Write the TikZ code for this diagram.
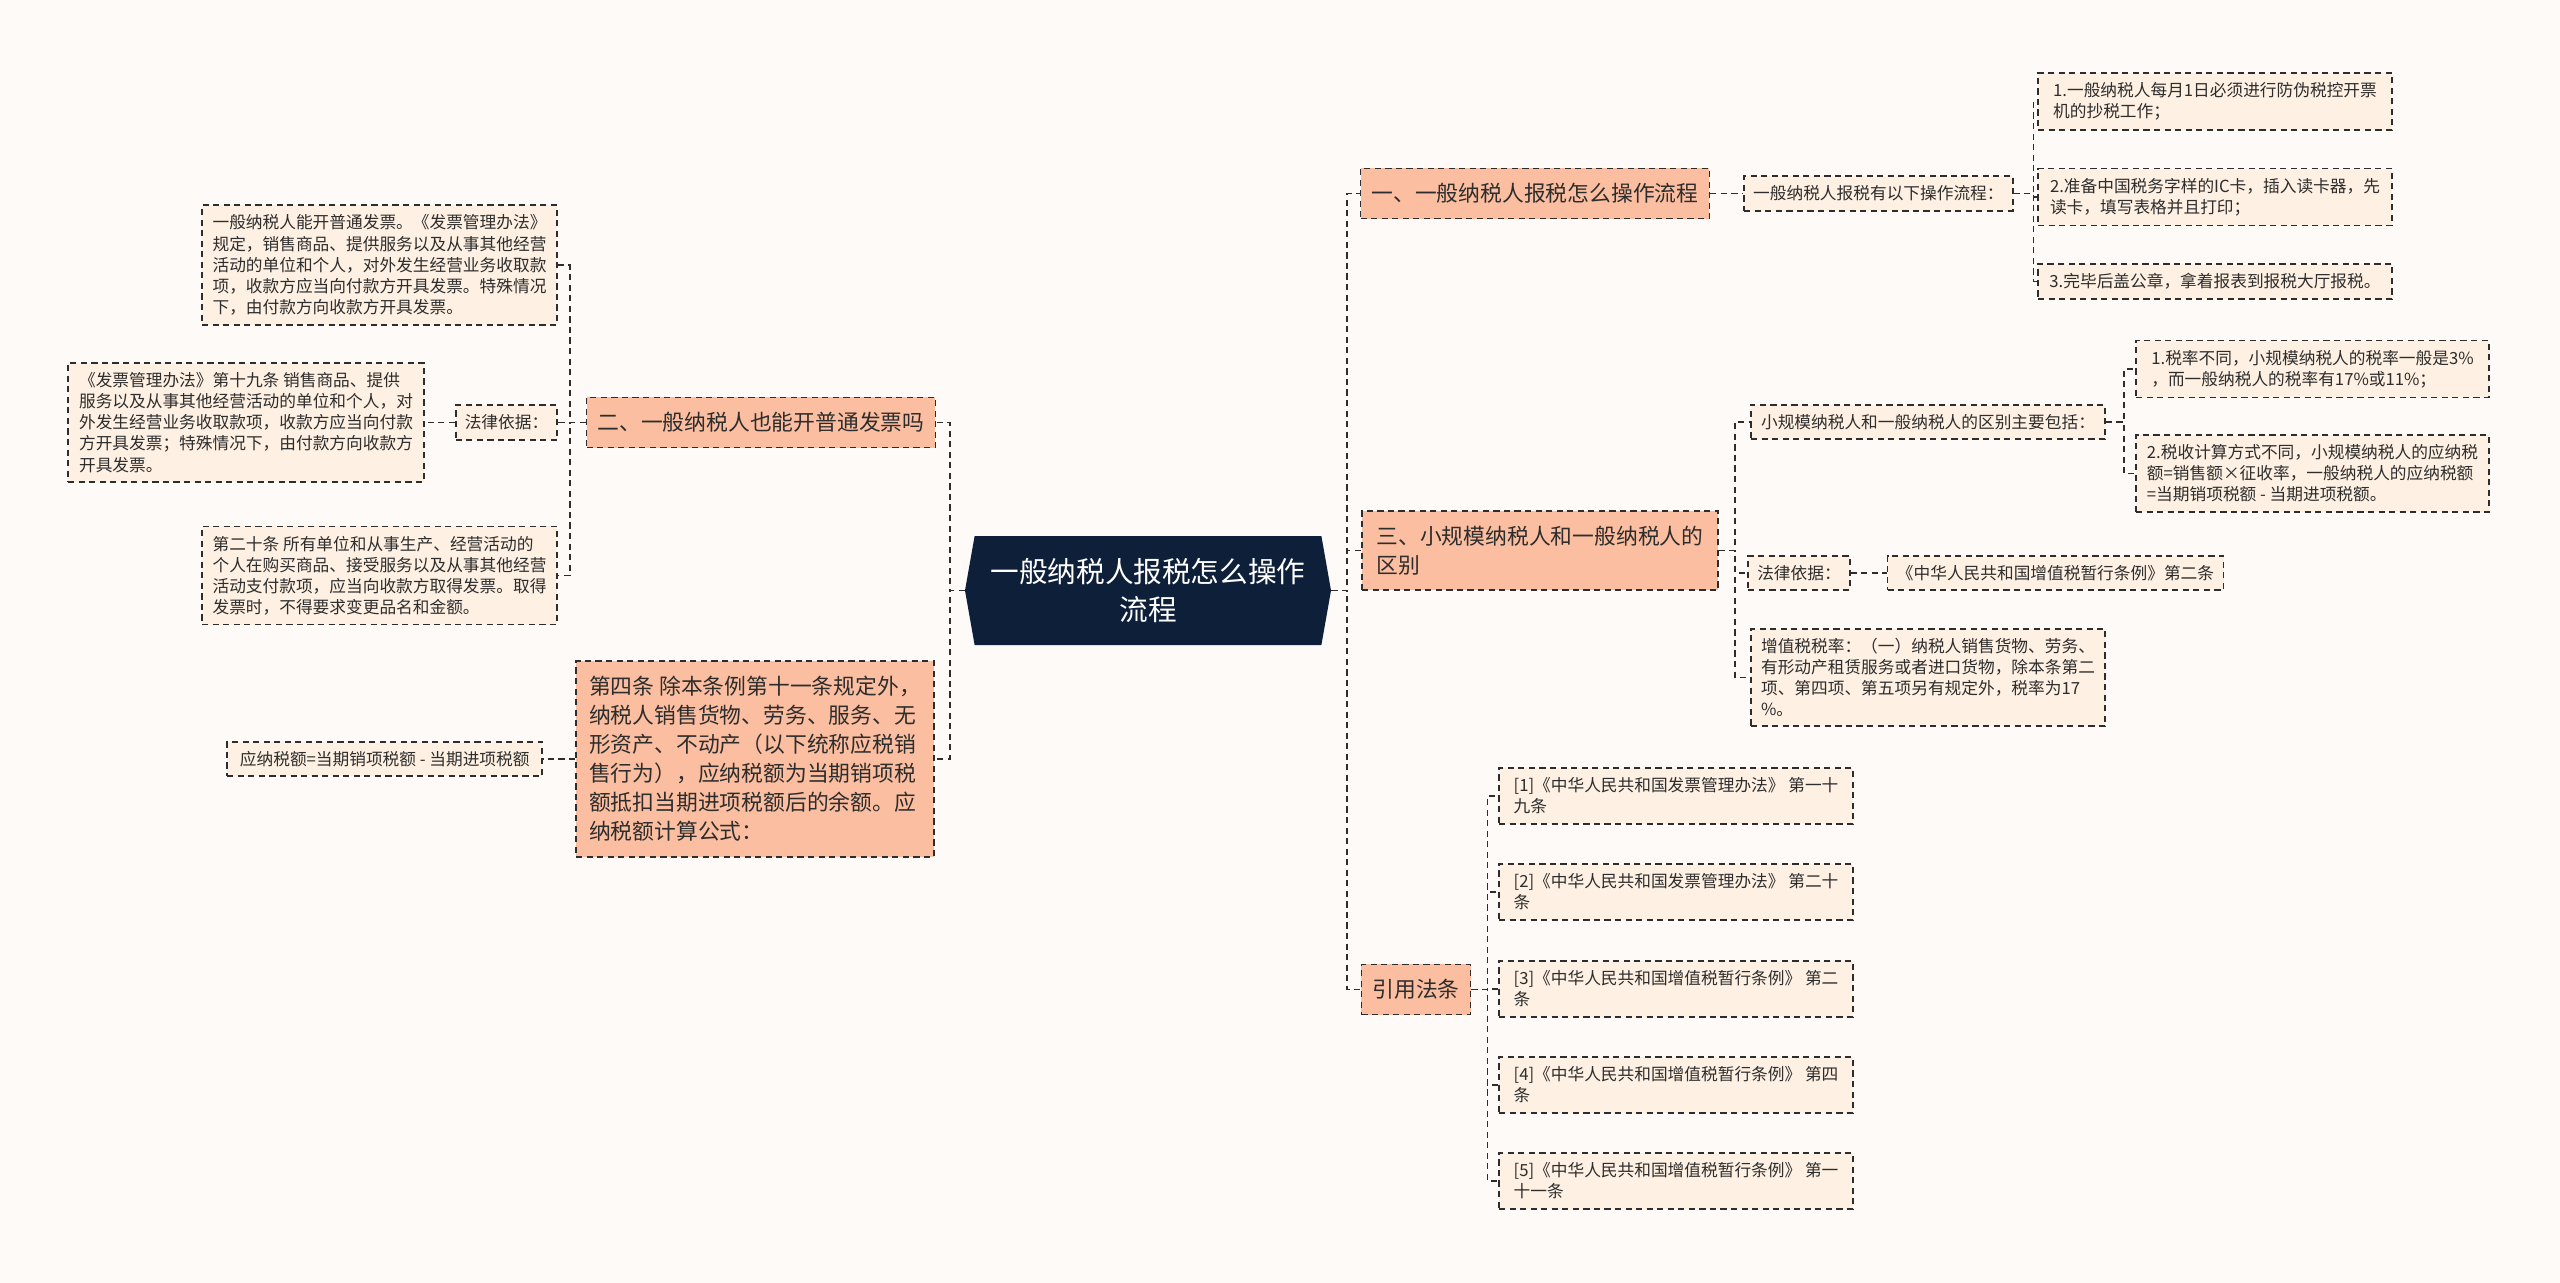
\documentclass[tikz,border=0pt]{standalone}
\usepackage{fontspec}
\newfontfamily\cjk{Noto Sans CJK SC}
\usepackage{tikz}
\usetikzlibrary{positioning,shapes.symbols}
\usepackage{xcolor}
\definecolor{PageBg}{RGB}{253,250,248}
\definecolor{CoreNavy}{RGB}{14,31,58}
\definecolor{TopicSalmon}{RGB}{252,190,160}
\definecolor{LeafPeach}{RGB}{254,240,226}
\definecolor{LineGray}{RGB}{45,45,45}

\begin{document}
\begin{tikzpicture}[
  core/.style={signal, signal to=west and east, signal pointer angle=160,
    fill=CoreNavy, text=white, font=\cjk\fontsize{16.3}{21.3}\selectfont,
    align=center, minimum width=7.32cm, minimum height=2.18cm, inner sep=0pt},
  topic/.style={rectangle, draw=LineGray, line width=1pt, dash pattern=on 3.5pt off 2.5pt,
    fill=TopicSalmon, text=LineGray, font=\cjk\fontsize{12.4}{16.5}\selectfont,
    align=left, inner xsep=0.22cm, inner ysep=0.3cm},
  leaf/.style={rectangle, draw=LineGray, line width=1pt, dash pattern=on 3.5pt off 2.5pt,
    fill=LeafPeach, text=LineGray, font=\cjk\fontsize{9.5}{12}\selectfont,
    align=left, inner xsep=0.18cm, inner ysep=0.19cm},
  link/.style={draw=LineGray, line width=1pt, dash pattern=on 3.5pt off 2.5pt},
]
\fill[PageBg] (0,0) rectangle (51.2,-25.66);
\useasboundingbox (0,0) rectangle (51.2,-25.66);
% Root
\node[core] (root) at (22.96,-11.81) {一般纳税人报税怎么操作\\流程};
% Left branch
\node[topic, minimum width=6.92cm] (q2) at (15.22,-8.45) {二、一般纳税人也能开普通发票吗};
\node[leaf, minimum width=2.02cm] (law1) at (10.13,-8.45) {法律依据：};
\node[leaf, minimum width=7.12cm, left=0.6cm of law1] (n1b) {《发票管理办法》第十九条 销售商品、提供\\服务以及从事其他经营活动的单位和个人，对\\外发生经营业务收取款项，收款方应当向付款\\方开具发票；特殊情况下，由付款方向收款方\\开具发票。};
\node[leaf, minimum width=7.1cm] (n1a) at (7.59,-5.3) {一般纳税人能开普通发票。《发票管理办法》\\规定，销售商品、提供服务以及从事其他经营\\活动的单位和个人，对外发生经营业务收取款\\项，收款方应当向付款方开具发票。特殊情况\\下，由付款方向收款方开具发票。};
\node[leaf, minimum width=7.1cm] (n1c) at (7.59,-11.51) {第二十条 所有单位和从事生产、经营活动的\\个人在购买商品、接受服务以及从事其他经营\\活动支付款项，应当向收款方取得发票。取得\\发票时，不得要求变更品名和金额。};
\node[topic, minimum width=7.16cm] (art4) at (15.1,-15.18) {第四条 除本条例第十一条规定外，\\纳税人销售货物、劳务、服务、无\\形资产、不动产（以下统称应税销\\售行为），应纳税额为当期销项税\\额抵扣当期进项税额后的余额。应\\纳税额计算公式：};
\node[leaf, minimum width=6.3cm, left=0.64cm of art4] (formula) {应纳税额=当期销项税额 - 当期进项税额};
% Right branch: 一
\node[topic, minimum width=6.92cm] (q1) at (30.7,-3.87) {一、一般纳税人报税怎么操作流程};
\node[leaf, minimum width=5.32cm, right=0.66cm of q1] (q1a) {一般纳税人报税有以下操作流程：};
\node[leaf, minimum width=7.08cm] (s1) at (44.3,-2.03) {1.一般纳税人每月1日必须进行防伪税控开票\\机的抄税工作；};
\node[leaf, minimum width=7.08cm] (s2) at (44.3,-3.94) {2.准备中国税务字样的IC卡，插入读卡器，先\\读卡，填写表格并且打印；};
\node[leaf, minimum width=7.08cm] (s3) at (44.3,-5.63) {3.完毕后盖公章，拿着报表到报税大厅报税。};
% Right branch: 三
\node[topic, minimum width=7.12cm] (q3) at (30.8,-11.01) {三、小规模纳税人和一般纳税人的\\区别};
\node[leaf, minimum width=7.08cm] (d1) at (38.56,-8.44) {小规模纳税人和一般纳税人的区别主要包括：};
\node[leaf, minimum width=7.06cm] (d1a) at (46.25,-7.38) {1.税率不同，小规模纳税人的税率一般是3\%\\，而一般纳税人的税率有17\%或11\%；};
\node[leaf, minimum width=7.06cm] (d1b) at (46.25,-9.47) {2.税收计算方式不同，小规模纳税人的应纳税\\额=销售额×征收率，一般纳税人的应纳税额\\=当期销项税额 - 当期进项税额。};
\node[leaf, minimum width=1.92cm] (law2) at (35.98,-11.46) {法律依据：};
\node[leaf, minimum width=6.72cm, right=0.72cm of law2] (law2a) {《中华人民共和国增值税暂行条例》第二条};
\node[leaf, minimum width=7.08cm] (rate) at (38.56,-13.55) {增值税税率：（一）纳税人销售货物、劳务、\\有形动产租赁服务或者进口货物，除本条第二\\项、第四项、第五项另有规定外，税率为17\\\%。};
% Right branch: 引用法条
\node[topic, minimum width=2.16cm] (cite) at (28.32,-19.79) {引用法条};
\node[leaf, minimum width=7.08cm] (c1) at (33.52,-15.92) {[1]《中华人民共和国发票管理办法》 第一十\\九条};
\node[leaf, minimum width=7.08cm] (c2) at (33.52,-17.84) {[2]《中华人民共和国发票管理办法》 第二十\\条};
\node[leaf, minimum width=7.08cm] (c3) at (33.52,-19.78) {[3]《中华人民共和国增值税暂行条例》 第二\\条};
\node[leaf, minimum width=7.08cm] (c4) at (33.52,-21.7) {[4]《中华人民共和国增值税暂行条例》 第四\\条};
\node[leaf, minimum width=7.08cm] (c5) at (33.52,-23.62) {[5]《中华人民共和国增值税暂行条例》 第一\\十一条};
% Root links
\foreach \t in {q2,art4}
  \draw[link] (root.west) -- ++(-0.3,0) |- (\t.east);
\foreach \t in {q1,q3,cite}
  \draw[link] (root.east) -- ++(0.32,0) |- (\t.west);
% Left links
\foreach \t in {n1a,law1,n1c}
  \draw[link] (q2.west) -- ++(-0.32,0) |- (\t.east);
\draw[link] (law1.west) -- (n1b.east);
\draw[link] (art4.west) -- (formula.east);
% Right links
\draw[link] (q1.east) -- (q1a.west);
\foreach \t in {s1,s2,s3}
  \draw[link] (q1a.east) -- ++(0.4,0) |- (\t.west);
\foreach \t in {d1,law2,rate}
  \draw[link] (q3.east) -- ++(0.32,0) |- (\t.west);
\foreach \t in {d1a,d1b}
  \draw[link] (d1.east) -- ++(0.36,0) |- (\t.west);
\draw[link] (law2.east) -- (law2a.west);
\foreach \t in {c1,c2,c3,c4,c5}
  \draw[link] (cite.east) -- ++(0.32,0) |- (\t.west);
\end{tikzpicture}
\end{document}
